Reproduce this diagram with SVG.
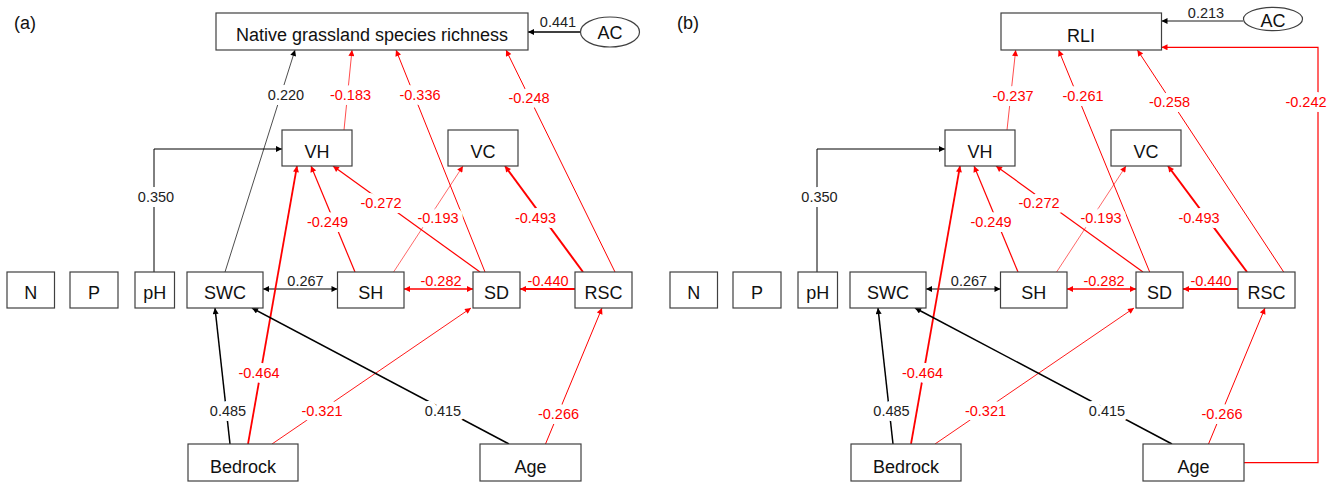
<svg xmlns="http://www.w3.org/2000/svg" width="1336" height="483" viewBox="0 0 1336 483">
<defs>
<style>
.bx{fill:#fff;stroke:#404040;stroke-width:1.2}
.nt{font-family:"Liberation Sans",Arial,sans-serif;font-size:18px;fill:#111;text-anchor:middle}
.lb{font-family:"Liberation Sans",Arial,sans-serif;font-size:14.5px;text-anchor:middle}
.k{fill:#222}
.r{fill:#ff0000}
.h{stroke:#fff;stroke-width:10;paint-order:stroke;stroke-linejoin:round}
.pl{font-family:"Liberation Sans",Arial,sans-serif;font-size:18px;fill:#111}
.ck{fill:none;stroke:#000}
.cr{fill:none;stroke:#ff0000}
.ak{marker-end:url(#mk)}
.ar{marker-end:url(#mr)}
</style>
<marker id="mk" viewBox="0 0 10 10" refX="10" refY="5" markerWidth="7" markerHeight="6" markerUnits="userSpaceOnUse" orient="auto-start-reverse"><path d="M0,0 L10,5 L0,10 z" fill="#000"/></marker>
<marker id="mr" viewBox="0 0 10 10" refX="10" refY="5" markerWidth="7" markerHeight="6" markerUnits="userSpaceOnUse" orient="auto-start-reverse"><path d="M0,0 L10,5 L0,10 z" fill="#ff0000"/></marker>
</defs>
<rect width="1336" height="483" fill="#fff"/>
<text class="pl" x="14" y="29">(a)</text>
<text class="pl" x="677" y="29">(b)</text>

<g id="connectors">
<!-- panel a -->
<line class="ck ak" x1="580" y1="32" x2="528" y2="32" stroke-width="1.5"/>
<line class="ck ak" x1="225" y1="272" x2="295" y2="50" stroke="#555" stroke-width="0.7"/>
<line class="cr ar" x1="344" y1="130" x2="352" y2="50" stroke-width="0.7"/>
<line class="cr ar" x1="485" y1="272" x2="396" y2="50" stroke-width="1"/>
<line class="cr ar" x1="615" y1="272" x2="506" y2="50" stroke-width="1"/>
<path class="ck ak" d="M154,272 V149 H282" stroke-width="1"/>
<line class="cr ar" x1="355" y1="272" x2="311" y2="166" stroke-width="1.2"/>
<line class="cr ar" x1="480" y1="272" x2="333" y2="166" stroke-width="1.2"/>
<line class="cr ar" x1="393.6" y1="272" x2="463" y2="166" stroke-width="0.6"/>
<line class="cr ar" x1="583" y1="272" x2="505" y2="166" stroke-width="2"/>
<line class="ck ak" x1="263" y1="289" x2="337.5" y2="289" stroke-width="1.2" marker-start="url(#mk)"/>
<line class="cr ar" x1="404" y1="289" x2="473" y2="289" stroke-width="1.5" marker-start="url(#mr)"/>
<line class="cr ar" x1="575" y1="289" x2="520" y2="289" stroke-width="2"/>
<line class="cr ar" x1="248" y1="444" x2="297" y2="166" stroke-width="1.8"/>
<line class="ck ak" x1="230" y1="444" x2="215" y2="308" stroke-width="1.5"/>
<line class="cr ar" x1="272" y1="444" x2="471" y2="308" stroke-width="0.9"/>
<line class="ck ak" x1="509" y1="444" x2="252" y2="308" stroke-width="1.5"/>
<line class="cr ar" x1="545.5" y1="444" x2="602" y2="308" stroke-width="1"/>
<!-- panel b -->
<line class="ck ak" x1="1243" y1="21" x2="1161.5" y2="21" stroke="#555" stroke-width="0.9"/>
<path class="cr ar" d="M1244,462.7 H1318 V47.3 H1161.5" stroke-width="1.2"/>
<line class="cr ar" x1="1007" y1="130" x2="1015.7" y2="50" stroke-width="0.7"/>
<line class="cr ar" x1="1149.7" y1="272" x2="1058.6" y2="50" stroke-width="1"/>
<line class="cr ar" x1="1283.7" y1="272" x2="1137.4" y2="50" stroke-width="1"/>
<path class="ck ak" d="M817,272 V149 H945" stroke-width="1"/>
<line class="cr ar" x1="1018" y1="272" x2="974" y2="166" stroke-width="1.2"/>
<line class="cr ar" x1="1143" y1="272" x2="996" y2="166" stroke-width="1.2"/>
<line class="cr ar" x1="1056.6" y1="272" x2="1126" y2="166" stroke-width="0.6"/>
<line class="cr ar" x1="1247" y1="272" x2="1168" y2="166" stroke-width="2"/>
<line class="ck ak" x1="926" y1="289" x2="1000.5" y2="289" stroke-width="1.2" marker-start="url(#mk)"/>
<line class="cr ar" x1="1067" y1="289" x2="1136" y2="289" stroke-width="1.5" marker-start="url(#mr)"/>
<line class="cr ar" x1="1238" y1="289" x2="1183" y2="289" stroke-width="2"/>
<line class="cr ar" x1="911" y1="444" x2="960" y2="166" stroke-width="1.8"/>
<line class="ck ak" x1="893" y1="444" x2="878" y2="308" stroke-width="1.5"/>
<line class="cr ar" x1="935" y1="444" x2="1134" y2="308" stroke-width="0.9"/>
<line class="ck ak" x1="1172" y1="444" x2="915" y2="308" stroke-width="1.5"/>
<line class="cr ar" x1="1208.5" y1="444" x2="1265" y2="308" stroke-width="1"/>
</g>

<g id="labels">
<text class="lb k" x="558" y="27">0.441</text>
<text class="lb k h" x="286" y="100">0.220</text>
<text class="lb r h" x="350.5" y="100">-0.183</text>
<text class="lb r h" x="420" y="100">-0.336</text>
<text class="lb r h" x="529" y="103">-0.248</text>
<text class="lb k h" x="156" y="201.5">0.350</text>
<text class="lb r h" x="327.5" y="227">-0.249</text>
<text class="lb r h" x="381" y="208">-0.272</text>
<text class="lb r h" x="438" y="222.5">-0.193</text>
<text class="lb r h" x="535.5" y="222.5">-0.493</text>
<text class="lb k" x="305.5" y="286">0.267</text>
<text class="lb r" x="441" y="286">-0.282</text>
<text class="lb r" x="548" y="286">-0.440</text>
<text class="lb r h" x="259" y="378">-0.464</text>
<text class="lb k h" x="228" y="416">0.485</text>
<text class="lb r h" x="322" y="416">-0.321</text>
<text class="lb k h" x="443" y="416">0.415</text>
<text class="lb r h" x="558.5" y="419">-0.266</text>

<text class="lb k" x="1206" y="18">0.213</text>
<text class="lb r h" x="1306" y="106.5">-0.242</text>
<text class="lb r h" x="1013" y="100.5">-0.237</text>
<text class="lb r h" x="1083" y="100.5">-0.261</text>
<text class="lb r h" x="1169.5" y="106.5">-0.258</text>
<text class="lb k h" x="819.5" y="201.5">0.350</text>
<text class="lb r h" x="991" y="227">-0.249</text>
<text class="lb r h" x="1039" y="208">-0.272</text>
<text class="lb r h" x="1101" y="222.5">-0.193</text>
<text class="lb r h" x="1199" y="222.5">-0.493</text>
<text class="lb k" x="969" y="286">0.267</text>
<text class="lb r" x="1104" y="286">-0.282</text>
<text class="lb r" x="1211" y="286">-0.440</text>
<text class="lb r h" x="922.5" y="378">-0.464</text>
<text class="lb k h" x="891.5" y="416">0.485</text>
<text class="lb r h" x="985.5" y="416">-0.321</text>
<text class="lb k h" x="1107" y="416">0.415</text>
<text class="lb r h" x="1222" y="419">-0.266</text>
</g>

<!-- panel a nodes -->
<g id="a-richness"><rect class="bx" x="216" y="13" width="312" height="37"/><text class="nt" x="372" y="41">Native grassland species richness</text></g>
<g id="a-AC"><ellipse class="bx" cx="610" cy="32" rx="29.5" ry="15"/><text class="nt" x="610" y="39">AC</text></g>
<g id="a-VH"><rect class="bx" x="282" y="130" width="70" height="36"/><text class="nt" x="317" y="158">VH</text></g>
<g id="a-VC"><rect class="bx" x="448" y="130" width="70" height="36"/><text class="nt" x="483" y="158">VC</text></g>
<g id="a-N"><rect class="bx" x="7" y="272" width="47.5" height="36"/><text class="nt" x="30.8" y="299">N</text></g>
<g id="a-P"><rect class="bx" x="70" y="272" width="48" height="36"/><text class="nt" x="94" y="299">P</text></g>
<g id="a-pH"><rect class="bx" x="135" y="272" width="39.5" height="36"/><text class="nt" x="154.8" y="299">pH</text></g>
<g id="a-SWC"><rect class="bx" x="187" y="272" width="76" height="36"/><text class="nt" x="225" y="299">SWC</text></g>
<g id="a-SH"><rect class="bx" x="337.5" y="272" width="66.5" height="36"/><text class="nt" x="370.8" y="299">SH</text></g>
<g id="a-SD"><rect class="bx" x="473" y="272" width="47" height="36"/><text class="nt" x="496.5" y="299">SD</text></g>
<g id="a-RSC"><rect class="bx" x="575" y="272" width="57" height="36"/><text class="nt" x="603.5" y="299">RSC</text></g>
<g id="a-Bedrock"><rect class="bx" x="188" y="444" width="110" height="37"/><text class="nt" x="243" y="472.5">Bedrock</text></g>
<g id="a-Age"><rect class="bx" x="480" y="444" width="101" height="37"/><text class="nt" x="530.5" y="472.5">Age</text></g>

<!-- panel b nodes -->
<g id="b-RLI"><rect class="bx" x="1001" y="13" width="160.5" height="37"/><text class="nt" x="1081" y="41.5">RLI</text></g>
<g id="b-AC"><ellipse class="bx" cx="1273" cy="19" rx="29.5" ry="11.7"/><text class="nt" x="1273" y="27">AC</text></g>
<g id="b-VH"><rect class="bx" x="945" y="130" width="70" height="36"/><text class="nt" x="980" y="158">VH</text></g>
<g id="b-VC"><rect class="bx" x="1111" y="130" width="70" height="36"/><text class="nt" x="1146" y="158">VC</text></g>
<g id="b-N"><rect class="bx" x="670" y="272" width="47.5" height="36"/><text class="nt" x="693.8" y="299">N</text></g>
<g id="b-P"><rect class="bx" x="733" y="272" width="48" height="36"/><text class="nt" x="757" y="299">P</text></g>
<g id="b-pH"><rect class="bx" x="798" y="272" width="39.5" height="36"/><text class="nt" x="817.8" y="299">pH</text></g>
<g id="b-SWC"><rect class="bx" x="850" y="272" width="76" height="36"/><text class="nt" x="888" y="299">SWC</text></g>
<g id="b-SH"><rect class="bx" x="1000.5" y="272" width="66.5" height="36"/><text class="nt" x="1033.8" y="299">SH</text></g>
<g id="b-SD"><rect class="bx" x="1136" y="272" width="47" height="36"/><text class="nt" x="1159.5" y="299">SD</text></g>
<g id="b-RSC"><rect class="bx" x="1238" y="272" width="57" height="36"/><text class="nt" x="1266.5" y="299">RSC</text></g>
<g id="b-Bedrock"><rect class="bx" x="851" y="444" width="110" height="37"/><text class="nt" x="906" y="472.5">Bedrock</text></g>
<g id="b-Age"><rect class="bx" x="1143" y="444" width="101" height="37"/><text class="nt" x="1193.5" y="472.5">Age</text></g>
</svg>
